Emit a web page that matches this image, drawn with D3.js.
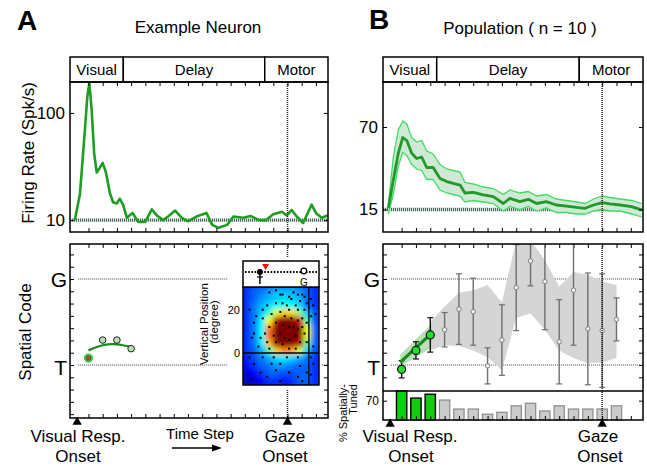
<!DOCTYPE html>
<html>
<head>
<meta charset="utf-8">
<script src="https://cdn.jsdelivr.net/npm/d3@7"></script>
<style>
  body { margin: 0; background: #fff; }
  svg { display: block; font-family: "Liberation Sans", Arial, sans-serif; }
</style>
</head>
<body>
<div id="chart"></div>
<script>
// ---- shared time axis (time steps) ----
const stepDomain = [-1.3, 16.85];
const stepTicks = [0, 1, 2, 3, 4, 5, 6, 7, 8, 9, 10, 11, 12, 13, 14, 15, 16];
const epochNames = ["Visual", "Delay", "Motor"];
const epochEdges = [-1.3, 2.45, 12.4, 16.85];
const gazeStep = 14;
const onsetStep = -0.8;

// ---- A: example neuron firing rate ----
const rateStepsA = [-0.96, -0.6, -0.25, -0.08, 0.06, 0.22, 0.4, 0.58, 0.8, 1.0, 1.23, 1.5, 1.73, 2.0, 2.2, 2.43,
  2.7, 3.1, 3.5, 4.0, 4.45, 4.8, 5.25, 5.6, 6.1, 6.55, 7.0, 7.6, 8.3, 8.7, 9.15, 9.75, 10.2, 10.9, 11.4, 12.0,
  12.5, 13.0, 13.6, 13.95, 14.3, 14.65, 15.1, 15.7, 16.0, 16.4, 16.85];
const rateA = [10, 32, 86, 114, 125, 103, 66, 50, 54, 58, 50, 33, 25, 24, 28, 23,
  12, 16, 8.5, 8.5, 19, 14, 10, 13, 18, 12, 9, 13, 16, 6, 3.5, 6, 13, 12, 13.5, 10,
  10, 15, 17, 14, 18.5, 13, 7.5, 23, 16, 12, 14];
const baselineA = 10;
const rateTicksA = [10, 100];

// ---- B: population firing rate (mean and band) ----
const rateStepsB = [-0.93, -0.58, -0.23, 0.08, 0.36, 0.7, 1.05, 1.4, 1.75, 2.2, 2.68, 3.15, 3.6, 4.08, 4.42, 5.0,
  5.7, 6.4, 7.1, 7.56, 8.26, 8.84, 9.43, 10.1, 10.8, 11.5, 12.2, 12.8, 13.4, 14.0, 14.55, 15.25, 16.05, 16.75];
const rateB = [15.8, 34.7, 52.6, 63, 61, 52.6, 49, 50, 43, 43, 35.7, 33.6, 32.4, 31.3, 26, 26.4,
  24.7, 23.6, 19, 22.4, 20.2, 21.8, 19, 20.2, 18, 17.3, 16.4, 15.8, 18, 19.6, 18.7, 18, 16.9, 14.7];
const rateBUpper = [18, 50, 68, 74, 72, 63, 60, 61, 54, 52, 45, 42, 41, 40, 33, 32,
  30, 29, 25, 28, 26, 27, 24, 25, 22, 21, 20, 19, 22, 24, 23, 22, 21, 19];
const rateBLower = [12, 25, 44, 53, 51, 45, 42, 41, 35, 35, 28, 26, 25, 24, 20, 21,
  20, 19, 14, 17, 15, 17, 14, 16, 13, 13, 12, 12, 14, 15, 14, 14, 12, 10];
const baselineB = 15;
const rateTicksB = [15, 70];

// ---- A: spatial code of the example neuron (T = 0, G = 1) ----
const codeStepsA = [0, 1, 2, 3];
const codeA = [0.08, 0.29, 0.29, 0.19];
const fitA = [0.17, 0.23, 0.24, 0.21];

// ---- B: population spatial code ----
const popSteps = [0, 1, 2, 3, 4, 5, 6, 7, 8, 9, 10, 11, 12, 13, 14, 15];
const popCode = [-0.05, 0.17, 0.35, 0.41, 0.65, 0.62, -0.01, 0.29, 0.9, 1.21, 0.97, 0.27, 0.87, 0.42, 0.40, 0.53];
const popErr = [0.1, 0.1, 0.2, 0.2, 0.41, 0.39, 0.21, 0.41, 0.5, 0.29, 0.56, 0.49, 0.64, 0.65, 0.66, 0.25];
const popTuned = [true, true, true, false, false, false, false, false, false, false, false, false, false, false, false, false];
const bandSteps = [2, 3, 4, 5, 6, 7, 8, 9, 10, 11, 12, 13, 14, 15];
const bandUpper = [0.5, 0.68, 0.84, 0.87, 0.93, 0.73, 1.45, 1.45, 1.22, 0.91, 1.08, 1.05, 0.97, 0.93];
const bandLower = [0.17, 0.23, 0.22, 0.17, 0.09, -0.06, 0.55, 0.6, 0.41, 0.17, 0.08, 0.02, 0.03, 0.08];
const fitStepsB = [-0.1, 2.1];
const fitB = [0.03, 0.37];
const fitBUpper = [0.12, 0.48];
const fitBLower = [-0.02, 0.2];
const tunedPct = [86, 74, 80, 71, 57, 57, 49, 52, 62, 66, 54, 62, 57, 57, 57, 62];

// ---- A inset: response field (degrees) ----
const fieldX = [-15, 19.6];
const fieldY = [-14.8, 30.5];
const fieldGrid = [
  [0.17, 0.22, 0.24, 0.27, 0.3, 0.3, 0.3, 0.27, 0.22, 0.17],
  [0.17, 0.22, 0.27, 0.3, 0.32, 0.34, 0.32, 0.3, 0.22, 0.17],
  [0.17, 0.24, 0.3, 0.34, 0.38, 0.4, 0.38, 0.34, 0.24, 0.17],
  [0.17, 0.24, 0.32, 0.42, 0.6, 0.68, 0.66, 0.5, 0.32, 0.2],
  [0.17, 0.24, 0.36, 0.62, 0.95, 1.0, 1.0, 0.9, 0.45, 0.2],
  [0.17, 0.24, 0.38, 0.75, 1.0, 1.0, 1.0, 1.0, 0.6, 0.22],
  [0.17, 0.24, 0.38, 0.78, 1.0, 1.0, 1.0, 1.0, 0.6, 0.22],
  [0.17, 0.24, 0.36, 0.7, 1.0, 1.0, 1.0, 0.95, 0.5, 0.22],
  [0.17, 0.22, 0.3, 0.45, 0.68, 0.75, 0.72, 0.58, 0.32, 0.2],
  [0.14, 0.2, 0.24, 0.3, 0.34, 0.36, 0.34, 0.3, 0.24, 0.17],
  [0.12, 0.17, 0.22, 0.24, 0.27, 0.27, 0.24, 0.22, 0.22, 0.17],
  [0.08, 0.12, 0.17, 0.22, 0.22, 0.2, 0.2, 0.22, 0.22, 0.17],
  [0.06, 0.08, 0.12, 0.17, 0.17, 0.14, 0.17, 0.22, 0.22, 0.17]
];
const dotX = [-3, 0, 2, 3, 6, 7, 8, 10, 11, 12, 13, 14, 16, 0, 3, 5, 6, 9, 10, 13, 15, 17, -4, -6, -9, -12, -10, -6,
  -2, 2, 4, 7, 10, 12, 14, 16, 18, 0, 3, 6, 8, 10, 12, 13, -3, -5, -7, -10, -11, -1, 2, 4, 6, 9, 11, 14, 17, -8,
  -4, 0, 3, 6, 9, -3, -12, -6, -1, 5, 10, 16, -10, -2, 2, 11, 17, -7, 0, 6, 14, -11, -4, 10, 16, 2, 12];
const dotY = [28, 29, 27, 27, 26, 25, 28, 27, 24, 27, 26, 23, 25, 23, 23, 22, 20, 22, 20, 20, 21, 22, 22, 20, 17,
  20, 14, 16, 18, 19, 17, 16, 15, 16, 14, 17, 18, 14, 13, 12, 12, 11, 12, 9, 12, 9, 7, 9, 7, 8, 9, 7, 6, 8, 5, 5, 3,
  3, 5, 5, 4, 2, 2, 2, -2, -2, -2, -2, -2, -2, -5, -5, -5, -6, -5, -9, -8, -9, -9, -12, -11, -11, -10, -13, -13];
const targetX = -7.3, goalX = 12.7, peakX = -4.7, fieldLineX = 15;

// ---- layout ----
const W = 647, H = 466;
const headTop = 57, headBottom = 82, rateBottom = 232, codeTop = 244;
const panelA = { left: 70, right: 328, codeBottom: 418 };
const panelB = { left: 383, right: 643, codeBottom: 391, barBottom: 420 };
const font = "'Liberation Sans', Arial, sans-serif";

const svg = d3.select("#chart").append("svg")
  .attr("width", W).attr("height", H)
  .attr("viewBox", `0 0 ${W} ${H}`);
const defs = svg.append("defs");

function clip(id, x0, y0, x1, y1) {
  defs.append("clipPath").attr("id", id)
    .append("rect").attr("x", x0).attr("y", y0).attr("width", x1 - x0).attr("height", y1 - y0);
  return `url(#${id})`;
}
function box(x0, y0, x1, y1, fill) {
  svg.append("rect").attr("x", x0).attr("y", y0).attr("width", x1 - x0).attr("height", y1 - y0)
    .attr("fill", fill || "none").attr("stroke", "#000").attr("stroke-width", 1.5);
}
function label(txt, x, y, size, opts) {
  opts = opts || {};
  const t = svg.append("text").attr("x", x).attr("y", y).text(txt)
    .attr("font-size", size).attr("font-family", font)
    .attr("text-anchor", opts.anchor || "middle")
    .attr("font-weight", opts.bold ? "bold" : null);
  if (opts.rotate) t.attr("transform", `rotate(-90,${x},${y})`);
  if (opts.central) t.attr("dominant-baseline", "central");
  return t;
}
function noDomain(g) { g.select(".domain").remove(); g.attr("font-family", font); }
function xTicks(x, y, top) {
  const ax = top ? d3.axisTop(x) : d3.axisBottom(x);
  svg.append("g").attr("transform", `translate(0,${y})`)
    .call(ax.tickValues(stepTicks).tickSize(-4).tickFormat("")).call(noDomain);
}
function dottedV(x, y0, y1) {
  svg.append("line").attr("x1", x).attr("x2", x).attr("y1", y0).attr("y2", y1)
    .attr("stroke", "#222").attr("stroke-width", 1.5).attr("stroke-dasharray", "1,1");
}

// ---- top row: firing rate panels ----
function ratePanel(p, id, yMax, yTicks, baseline, drawSeries) {
  const x = d3.scaleLinear().domain(stepDomain).range([p.left, p.right]);
  const y = d3.scaleLinear().domain([0, yMax]).range([rateBottom, headBottom]);

  // epoch header
  epochNames.forEach((name, i) => {
    box(x(epochEdges[i]), headTop, x(epochEdges[i + 1]), headBottom, "#fff");
    label(name, (x(epochEdges[i]) + x(epochEdges[i + 1])) / 2, 75, 15);
  });

  const g = svg.append("g").attr("clip-path", clip(id, p.left, headBottom, p.right, rateBottom));
  g.append("line").attr("x1", p.left).attr("x2", p.right).attr("y1", y(baseline)).attr("y2", y(baseline))
    .attr("stroke", "#48665a").attr("stroke-width", 3.4).attr("stroke-dasharray", "1.2,0.8");
  drawSeries(g, x, y);
  dottedV(x(gazeStep), headBottom, rateBottom);

  xTicks(x, rateBottom, false);
  xTicks(x, headBottom, true);
  svg.append("g").attr("transform", `translate(${p.left},0)`)
    .call(d3.axisLeft(y).tickValues(yTicks).tickSize(-4).tickPadding(5))
    .call(noDomain).attr("font-size", 17);
  svg.append("g").attr("transform", `translate(${p.right},0)`)
    .call(d3.axisRight(y).tickValues(yTicks).tickSize(-4).tickFormat(""))
    .call(noDomain);
  box(p.left, headBottom, p.right, rateBottom);
  return x;
}

ratePanel(panelA, "clipRateA", 126, rateTicksA, baselineA, (g, x, y) => {
  const pts = rateStepsA.map((s, i) => [s, rateA[i]]);
  g.append("path").datum(pts)
    .attr("d", d3.line().x(d => x(d[0])).y(d => y(d[1])))
    .attr("fill", "none").attr("stroke", "#1f9c22").attr("stroke-width", 2.6)
    .attr("stroke-linejoin", "round");
});

ratePanel(panelB, "clipRateB", 100, rateTicksB, baselineB, (g, x, y) => {
  const idx = d3.range(rateStepsB.length);
  g.append("path").datum(idx)
    .attr("d", d3.area().x(i => x(rateStepsB[i])).y0(i => y(rateBLower[i])).y1(i => y(rateBUpper[i])))
    .attr("fill", "#cfe9d4");
  [rateBUpper, rateBLower].forEach(arr => {
    g.append("path").datum(idx)
      .attr("d", d3.line().x(i => x(rateStepsB[i])).y(i => y(arr[i])))
      .attr("fill", "none").attr("stroke", "#3edc60").attr("stroke-width", 1.3);
  });
  g.append("path").datum(idx)
    .attr("d", d3.line().x(i => x(rateStepsB[i])).y(i => y(rateB[i])))
    .attr("fill", "none").attr("stroke", "#1f9a2a").attr("stroke-width", 2.8)
    .attr("stroke-linejoin", "round");
});

// ---- bottom row: spatial code panels ----
const codeTicks = [-4, -3, -2, -1, 0, 1, 2, 3, 4, 5, 6, 7, 8, 9].map(k => k / 7);

function codeFrame(p, id, bottom) {
  const x = d3.scaleLinear().domain(stepDomain).range([p.left, p.right]);
  const y = d3.scaleLinear().domain([0, 1]).range([365, 279]);
  const visible = codeTicks.filter(v => y(v) > codeTop + 2 && y(v) < bottom - 2);
  svg.append("g").attr("transform", `translate(${p.left},0)`)
    .call(d3.axisLeft(y).tickValues(visible).tickSize(-4).tickFormat("")).call(noDomain);
  svg.append("g").attr("transform", `translate(${p.right},0)`)
    .call(d3.axisRight(y).tickValues(visible).tickSize(-4).tickFormat("")).call(noDomain);
  xTicks(x, codeTop, true);
  // T and G reference lines
  [0, 1].forEach(v => {
    svg.append("line").attr("x1", x(-0.75)).attr("x2", p.right).attr("y1", y(v)).attr("y2", y(v))
      .attr("stroke", "#444").attr("stroke-width", 1.1).attr("stroke-dasharray", "1,1");
  });
  label("G", p.left - 3, y(1), 21, { anchor: "end", central: true });
  label("T", p.left - 3, y(0) + 2, 21, { anchor: "end", central: true });
  const g = svg.append("g").attr("clip-path", clip(id, p.left, codeTop, p.right, bottom));
  return { x, y, g };
}

function markers(x, yBase) {
  [onsetStep, gazeStep].forEach(s => {
    svg.append("path").attr("d", d3.symbol().type(d3.symbolTriangle).size(38)())
      .attr("transform", `translate(${x(s)},${yBase + 4})`).attr("fill", "#000");
  });
}

// Panel A spatial code
{
  const p = panelA;
  const { x, y, g } = codeFrame(p, "clipCodeA", p.codeBottom);
  dottedV(x(gazeStep), codeTop, p.codeBottom);
  xTicks(x, p.codeBottom, false);

  const fit = codeStepsA.map((s, i) => [s, fitA[i]]);
  g.append("path").datum(fit)
    .attr("d", d3.line().curve(d3.curveNatural).x(d => x(d[0])).y(d => y(d[1])))
    .attr("fill", "none").attr("stroke", "#1a8a1f").attr("stroke-width", 2.2);
  g.selectAll(".ptA").data(codeStepsA).join("circle")
    .attr("cx", s => x(s)).attr("cy", (s, i) => y(codeA[i]))
    .attr("r", (s, i) => i === 0 ? 3.6 : 3.3)
    .attr("fill", (s, i) => i === 0 ? "#a4483e" : "#b7e0b5")
    .attr("stroke", (s, i) => i === 0 ? "#36c83e" : "#222")
    .attr("stroke-width", (s, i) => i === 0 ? 2 : 1);

  // inset: response field of the first time step
  const ix0 = 243, ix1 = 319, stripTop = 261, mapTop = 287, mapBottom = 385;
  svg.append("rect").attr("x", 228).attr("y", 257).attr("width", 93).attr("height", 132).attr("fill", "#fff");
  const fx = d3.scaleLinear().domain(fieldX).range([ix0, ix1]);
  const fy = d3.scaleLinear().domain(fieldY).range([mapBottom, mapTop]);
  const jet = d3.scaleLinear()
    .domain([0, 0.125, 0.375, 0.625, 0.875, 1])
    .range(["#00007f", "#0000ff", "#00ffff", "#ffff00", "#ff0000", "#7f0000"]);
  const rows = fieldGrid.length, cols = fieldGrid[0].length;
  const cw = (fieldX[1] - fieldX[0]) / cols, ch = (fieldY[1] - fieldY[0]) / rows;
  defs.append("filter").attr("id", "soft").attr("x", "-20%").attr("y", "-20%").attr("width", "140%").attr("height", "140%")
    .append("feGaussianBlur").attr("stdDeviation", 2.6);
  const mapG = svg.append("g").attr("clip-path", clip("clipMap", ix0, mapTop, ix1, mapBottom));
  mapG.append("rect").attr("x", ix0 - 10).attr("y", mapTop - 10)
    .attr("width", ix1 - ix0 + 20).attr("height", mapBottom - mapTop + 20).attr("fill", jet(0.17));
  const cells = mapG.append("g").attr("filter", "url(#soft)");
  fieldGrid.forEach((row, r) => row.forEach((v, c) => {
    const xa = fieldX[0] + c * cw, yb = fieldY[1] - r * ch;
    cells.append("rect")
      .attr("x", fx(xa) - 0.5).attr("y", fy(yb) - 0.5)
      .attr("width", fx(xa + cw) - fx(xa) + 1).attr("height", fy(yb - ch) - fy(yb) + 1)
      .attr("fill", jet(v));
  }));
  mapG.selectAll(".dot").data(dotX).join("rect")
    .attr("x", (d, i) => fx(d) - 1).attr("y", (d, i) => fy(dotY[i]) - 1)
    .attr("width", 2).attr("height", 2).attr("fill", "#000");
  mapG.append("line").attr("x1", ix0).attr("x2", ix1).attr("y1", fy(0)).attr("y2", fy(0))
    .attr("stroke", "#000").attr("stroke-width", 1.3);
  mapG.append("line").attr("x1", fx(fieldLineX)).attr("x2", fx(fieldLineX)).attr("y1", mapTop).attr("y2", mapBottom)
    .attr("stroke", "#000").attr("stroke-width", 1.3);
  box(ix0, mapTop, ix1, mapBottom);
  label("20", ix0 - 3, fy(20), 11, { anchor: "end", central: true });
  label("0", ix0 - 3, fy(0), 11, { anchor: "end", central: true });
  label("Vertical Position", 204, 324, 11.5, { rotate: true, central: true });
  label("(degree)", 214, 322, 11.5, { rotate: true, central: true });

  // strip: T-G axis with the peak position
  box(ix0, stripTop, ix1, mapTop, "#fff");
  svg.append("line").attr("x1", ix0 + 2).attr("x2", ix1 - 2).attr("y1", 272).attr("y2", 272)
    .attr("stroke", "#000").attr("stroke-width", 2.2).attr("stroke-dasharray", "1.6,1.6");
  svg.append("line").attr("x1", fx(targetX)).attr("x2", fx(targetX)).attr("y1", 272).attr("y2", 284)
    .attr("stroke", "#000").attr("stroke-width", 1.5);
  svg.append("line").attr("x1", fx(targetX) - 3).attr("x2", fx(targetX) + 3).attr("y1", 277).attr("y2", 277)
    .attr("stroke", "#000").attr("stroke-width", 1.2);
  svg.append("circle").attr("cx", fx(targetX)).attr("cy", 272).attr("r", 3).attr("fill", "#000");
  svg.append("circle").attr("cx", fx(goalX)).attr("cy", 271).attr("r", 2.8).attr("fill", "#fff")
    .attr("stroke", "#000").attr("stroke-width", 1.3);
  label("G", fx(goalX), 286, 10);
  svg.append("path").attr("d", d3.symbol().type(d3.symbolTriangle).size(22)())
    .attr("transform", `translate(${fx(peakX)},266) rotate(180)`).attr("fill", "#f01010");

  box(p.left, codeTop, p.right, p.codeBottom);
  markers(x, p.codeBottom);

  label("Visual Resp.", 78, 442, 17);
  label("Onset", 78, 462, 17);
  label("Time Step", 200, 439, 15);
  svg.append("line").attr("x1", 172).attr("x2", 216).attr("y1", 448).attr("y2", 448)
    .attr("stroke", "#000").attr("stroke-width", 1.5);
  svg.append("path").attr("d", "M222,448 L212,444.5 L212,451.5 Z").attr("fill", "#000");
  label("Gaze", 285, 442, 17);
  label("Onset", 285, 462, 17);
}

// Panel B spatial code + tuned bars
{
  const p = panelB;
  const { x, y, g } = codeFrame(p, "clipCodeB", p.codeBottom);
  const idx = d3.range(bandSteps.length);
  g.append("path").datum(idx)
    .attr("d", d3.area().x(i => x(bandSteps[i])).y0(i => y(bandLower[i])).y1(i => y(bandUpper[i])))
    .attr("fill", "#d5d5d5");
  g.append("path").datum([0, 1])
    .attr("d", d3.area().x(i => x(fitStepsB[i])).y0(i => y(fitBLower[i])).y1(i => y(fitBUpper[i])))
    .attr("fill", "#9fd69f").attr("opacity", 0.75);

  // error bars
  popSteps.forEach((s, i) => {
    const col = popTuned[i] ? "#111" : "#6e6e6e";
    const lo = y(popCode[i] - popErr[i]), hi = y(popCode[i] + popErr[i]);
    g.append("line").attr("x1", x(s)).attr("x2", x(s)).attr("y1", lo).attr("y2", hi)
      .attr("stroke", col).attr("stroke-width", 1.4);
    [lo, hi].forEach(v => g.append("line").attr("x1", x(s) - 3).attr("x2", x(s) + 3).attr("y1", v).attr("y2", v)
      .attr("stroke", col).attr("stroke-width", 1.2));
  });
  g.append("path").datum([0, 1])
    .attr("d", d3.line().x(i => x(fitStepsB[i])).y(i => y(fitB[i])))
    .attr("stroke", "#1a8a1f").attr("stroke-width", 3.2);
  g.selectAll(".ptB").data(popSteps).join("circle")
    .attr("cx", s => x(s)).attr("cy", (s, i) => y(popCode[i]))
    .attr("r", (s, i) => popTuned[i] ? 4 : 2.2)
    .attr("fill", (s, i) => popTuned[i] ? "#24e024" : "#f4f4f4")
    .attr("stroke", (s, i) => popTuned[i] ? "#111" : "#808080")
    .attr("stroke-width", (s, i) => popTuned[i] ? 1.2 : 1);

  // % spatially tuned bars
  const by = d3.scaleLinear().domain([40, 85]).range([p.barBottom, p.codeBottom]).clamp(true);
  const bw = (x(1) - x(0)) * 0.72;
  svg.selectAll(".bar").data(popSteps).join("rect")
    .attr("x", s => x(s) - bw / 2).attr("y", (s, i) => by(tunedPct[i]))
    .attr("width", bw).attr("height", (s, i) => p.barBottom - by(tunedPct[i]))
    .attr("fill", (s, i) => popTuned[i] ? "#12cc12" : "#cbcbcb")
    .attr("stroke", (s, i) => popTuned[i] ? "#000" : "#8a8a8a")
    .attr("stroke-width", (s, i) => popTuned[i] ? 1.4 : 1.2);
  svg.append("g").attr("transform", `translate(${p.left},0)`)
    .call(d3.axisLeft(by).tickValues([70]).tickSize(-4).tickPadding(4))
    .call(noDomain).attr("font-size", 12);
  svg.append("g").attr("transform", `translate(${p.right},0)`)
    .call(d3.axisRight(by).tickValues([70]).tickSize(-4).tickFormat("")).call(noDomain);

  dottedV(x(gazeStep), codeTop, p.barBottom);
  xTicks(x, p.barBottom, false);
  svg.append("line").attr("x1", p.left).attr("x2", p.right).attr("y1", p.codeBottom).attr("y2", p.codeBottom)
    .attr("stroke", "#000").attr("stroke-width", 1.5);
  box(p.left, codeTop, p.right, p.barBottom);
  markers(x, p.barBottom);

  label("% Spatially-", 343, 384, 11, { rotate: true, anchor: "end", central: true });
  label("Tuned", 353, 384, 11, { rotate: true, anchor: "end", central: true });
  label("Visual Resp.", 410, 442, 17);
  label("Onset", 411, 462, 17);
  label("Gaze", 598, 442, 17);
  label("Onset", 600, 462, 17);
}

// ---- titles and axis titles ----
label("A", 17, 30, 28, { anchor: "start", bold: true });
label("B", 369, 29, 28, { anchor: "start", bold: true });
label("Example Neuron", 198, 33, 17);
label("Population ( n = 10 )", 520, 34, 17);
label("Firing Rate (Spk/s)", 28, 153, 17, { rotate: true, central: true });
label("Spatial Code", 25, 332, 17, { rotate: true, central: true });
</script>
</body>
</html>
